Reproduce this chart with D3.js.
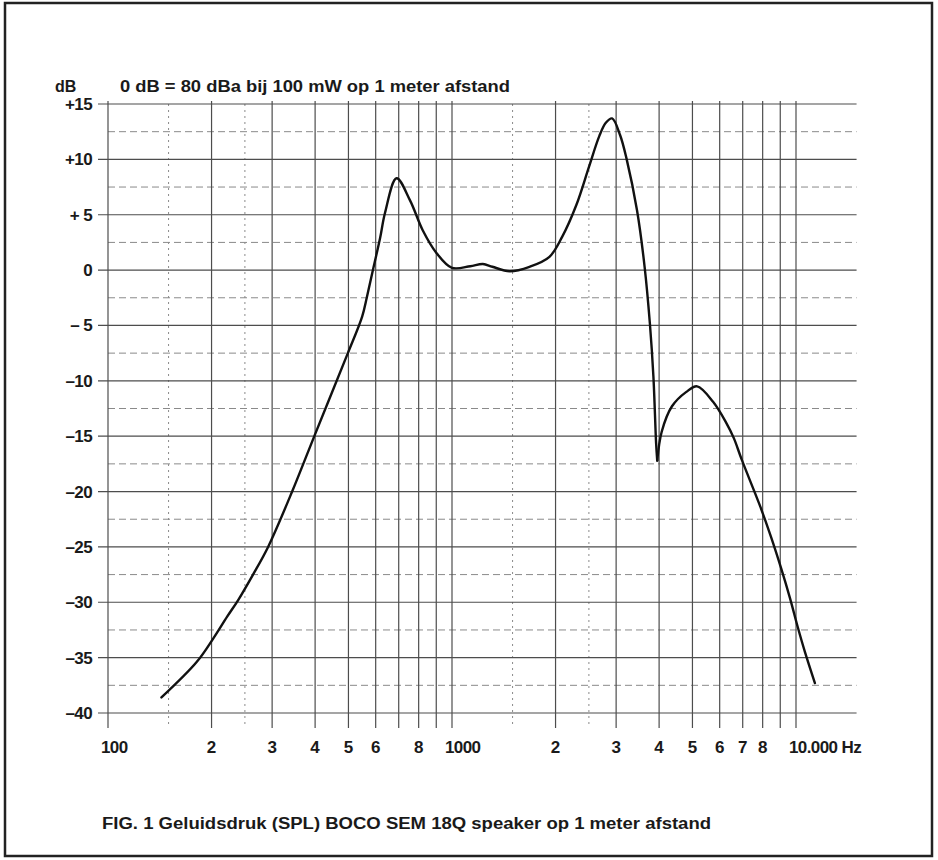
<!DOCTYPE html>
<html>
<head>
<meta charset="utf-8">
<script src="https://cdn.jsdelivr.net/npm/d3@7"></script>
<style>
  body { margin: 0; background: #fff; }
  text { font-family: "Liberation Sans", Arial, sans-serif; font-weight: bold; fill: #1a1a1a; }
</style>
</head>
<body>
<div id="chart"></div>
<script>
// frequency response
var freqs = [143, 181, 202, 222, 239, 264, 292, 343, 399, 495, 548, 566, 589, 618, 639, 690,
             755, 822, 901, 1000, 1130, 1230, 1310, 1470, 1680, 1920, 2090, 2300, 2500, 2680, 2800,
             2920, 3080, 3220, 3450, 3630, 3760, 3850, 3920, 3950, 4070, 4360, 4800, 5160,
             5740, 6270, 6600, 6950, 7860, 8460, 9045, 9600, 10130, 10620, 11350];
var spl = [-38.6, -35.4, -33.3, -31.3, -29.8, -27.5, -25.0, -20.0, -14.9, -7.7, -4.2, -2.4, 0.0, 2.9, 5.2, 8.3,
           6.3, 3.6, 1.55, 0.2, 0.35, 0.55, 0.3, -0.1, 0.3, 1.2, 3.0, 5.9, 9.3, 12.1, 13.3,
           13.7, 12.2, 10.0, 5.4, 0.3, -4.8, -9.6, -15.6, -17.2, -14.6, -12.3, -11.0, -10.5,
           -11.9, -13.8, -15.2, -17.1, -21.3, -24.1, -26.9, -29.6, -32.3, -34.5, -37.3];
var cuspFreq = 3950;

var yTicks = [15, 10, 5, 0, -5, -10, -15, -20, -25, -30, -35, -40];
var yTickLabels = ["+15", "+10", "+ 5", "0", "\u2013 5", "\u201310", "\u201315", "\u201320",
                   "\u201325", "\u201330", "\u201335", "\u201340"];
var yMinor = [12.5, 7.5, 2.5, -2.5, -7.5, -12.5, -17.5, -22.5, -27.5, -32.5, -37.5];

var majorFreqs = [100, 200, 300, 400, 500, 600, 700, 800, 900,
                  1000, 2000, 3000, 4000, 5000, 6000, 7000, 8000, 9000, 10000];
var dottedFreqs = [150, 250, 1500, 2500];

var xLabelFreqs = [200, 300, 400, 500, 600, 800, 2000, 3000, 4000, 5000, 6000, 7000, 8000];
var xLabelTexts = ["2", "3", "4", "5", "6", "8", "2", "3", "4", "5", "6", "7", "8"];
var xDecadeFreqs = [100, 1000, 10000];
var xDecadeTexts = ["100", "1000", "10.000 Hz"];

var titleText = "0 dB = 80 dBa bij 100 mW op 1 meter afstand";
var captionText = "FIG. 1 Geluidsdruk (SPL) BOCO SEM 18Q speaker op 1 meter afstand";

var width = 938, height = 860;

var x = d3.scaleLog().domain([100, 10000]).range([108, 796]);
var y = d3.scaleLinear().domain([-40, 15]).range([713, 104]);
var gridRight = x(15000);

var svg = d3.select("#chart").append("svg")
    .attr("width", width)
    .attr("height", height);

// frame
svg.append("rect")
    .attr("x", 5).attr("y", 3)
    .attr("width", 927).attr("height", 853)
    .attr("fill", "#fff")
    .attr("stroke", "#222")
    .attr("stroke-width", 2.5);

var grid = svg.append("g");

// minor (dashed) horizontal lines
grid.selectAll(".hminor")
    .data(yMinor)
  .enter().append("line")
    .attr("x1", x(100)).attr("x2", gridRight)
    .attr("y1", function(d) { return y(d); })
    .attr("y2", function(d) { return y(d); })
    .attr("stroke", "#8a8a8a")
    .attr("stroke-width", 1)
    .attr("stroke-dasharray", "7,4");

// dotted vertical lines
grid.selectAll(".vdot")
    .data(dottedFreqs)
  .enter().append("line")
    .attr("x1", function(d) { return x(d); })
    .attr("x2", function(d) { return x(d); })
    .attr("y1", y(15)).attr("y2", y(-40) + 15)
    .attr("stroke", "#8a8a8a")
    .attr("stroke-width", 1)
    .attr("stroke-dasharray", "2,4");

// major horizontal lines
grid.selectAll(".hmajor")
    .data(yTicks)
  .enter().append("line")
    .attr("x1", x(100) - 10).attr("x2", gridRight)
    .attr("y1", function(d) { return y(d); })
    .attr("y2", function(d) { return y(d); })
    .attr("stroke", "#4d4d4d")
    .attr("stroke-width", 1.2);

// major vertical lines
grid.selectAll(".vmajor")
    .data(majorFreqs)
  .enter().append("line")
    .attr("x1", function(d) { return x(d); })
    .attr("x2", function(d) { return x(d); })
    .attr("y1", y(15) - 3).attr("y2", y(-40) + 15)
    .attr("stroke", "#4d4d4d")
    .attr("stroke-width", 1.2);

// y labels
svg.selectAll(".ylab")
    .data(yTicks)
  .enter().append("text")
    .attr("x", 92)
    .attr("y", function(d) { return y(d) + 6; })
    .attr("text-anchor", "end")
    .style("font-size", "17px")
    .style("letter-spacing", "-0.6px")
    .text(function(d, i) { return yTickLabels[i]; });

// x labels
svg.selectAll(".xlab")
    .data(xLabelFreqs)
  .enter().append("text")
    .attr("x", function(d) { return x(d); })
    .attr("y", 753)
    .attr("text-anchor", "middle")
    .style("font-size", "17px")
    .text(function(d, i) { return xLabelTexts[i]; });

svg.selectAll(".xdec")
    .data(xDecadeFreqs)
  .enter().append("text")
    .attr("x", function(d) { return x(d) - 7; })
    .attr("y", 753)
    .style("font-size", "17px")
    .style("letter-spacing", "-0.6px")
    .text(function(d, i) { return xDecadeTexts[i]; });

// header
svg.append("text")
    .attr("x", 55).attr("y", 92)
    .style("font-size", "16px")
    .text("dB");

svg.append("text")
    .attr("x", 120).attr("y", 92)
    .attr("textLength", 390)
    .attr("lengthAdjust", "spacingAndGlyphs")
    .style("font-size", "16px")
    .text(titleText);

// the curve: smooth on both sides of the sharp notch near 4 kHz
var pts = freqs.map(function(f, i) { return [f, spl[i]]; });
var cut = freqs.indexOf(cuspFreq);
var line = d3.line()
    .x(function(d) { return x(d[0]); })
    .y(function(d) { return y(d[1]); })
    .curve(d3.curveCatmullRom.alpha(0.5));

svg.selectAll(".curve")
    .data([pts.slice(0, cut + 1), pts.slice(cut)])
  .enter().append("path")
    .attr("d", line)
    .attr("fill", "none")
    .attr("stroke", "#111")
    .attr("stroke-width", 2.4)
    .attr("stroke-linejoin", "round")
    .attr("stroke-linecap", "round");

// caption
svg.append("text")
    .attr("x", 102).attr("y", 829)
    .attr("textLength", 609)
    .attr("lengthAdjust", "spacingAndGlyphs")
    .style("font-size", "16px")
    .text(captionText);
</script>
</body>
</html>
